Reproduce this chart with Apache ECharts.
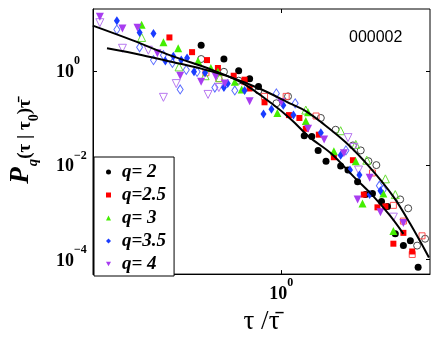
<!DOCTYPE html>
<html>
<head>
<meta charset="utf-8">
<script src="https://cdn.jsdelivr.net/npm/echarts@6/dist/echarts.min.js"></script>
<style>
html, body { margin: 0; padding: 0; background: #fff; }
#chart { width: 436px; height: 340px; }
</style>
</head>
<body>
<div id="chart"></div>
<script>
// [tau/taubar, P_q(tau|tau0)*taubar]
const q2 = [[0.445,3.48],[0.560,1.78],[0.650,1.00],[0.726,0.681],[0.794,0.464],[1.26,0.0422],[1.36,0.0402],[1.45,0.0205],[1.57,0.0121],[1.82,0.00953],[1.96,0.00787],[2.16,0.00442],[2.51,0.00249],[2.34,0.00237],[2.75,0.00169],[2.92,0.00133],[3.16,0.000348],[3.43,0.000196],[3.68,0.000249],[3.98,0.0000681]];
const q2open = [[0.445,1.78],[0.560,0.953],[0.650,0.619],[0.794,0.383],[0.951,0.205],[1.07,0.287],[1.49,0.100],[1.73,0.0562],[2.06,0.0261],[2.23,0.0205],[2.41,0.0121],[2.61,0.0100],[3.32,0.00187],[3.60,0.00121],[4.27,0.000274],[3.94,0.000196]];
const q25 = [[0.323,5.11],[0.406,2.49],[0.472,1.69],[0.527,1.15],[0.618,0.787],[0.690,0.649],[0.726,0.422],[0.844,0.215],[1.08,0.115],[1.20,0.100],[1.28,0.0590],[1.46,0.0442],[1.70,0.0147],[2.06,0.0127],[2.30,0.00237],[2.64,0.00127],[2.86,0.00133],[3.43,0.000365],[3.10,0.000215],[3.75,0.000147]];
const q25open = [[0.467,0.909],[0.532,0.681],[0.690,0.590],[0.844,0.287],[1.05,0.287],[1.42,0.110],[2.51,0.00681],[3.10,0.00140],[3.43,0.000649],[4.14,0.000316],[3.75,0.000127]];
const q3 = [[0.244,9.53],[0.304,4.02],[0.353,3.01],[0.431,1.62],[0.491,1.15],[0.527,0.953],[0.625,0.590],[0.670,0.402],[0.961,0.127],[1.31,0.133],[1.28,0.0866],[1.70,0.0196],[2.12,0.0121],[2.27,0.00154],[2.80,0.00249],[3.10,0.000402]];
const q3open = [[0.244,5.11],[0.356,1.21],[0.463,0.787],[0.537,0.715],[1.28,0.147],[1.82,0.0536],[2.12,0.0274],[2.37,0.0127],[2.86,0.00511],[3.16,0.00237]];
const q35 = [[0.190,11.5],[0.239,6.49],[0.275,6.19],[0.310,1.62],[0.336,2.05],[0.364,1.69],[0.386,1.87],[0.414,0.953],[0.463,0.909],[0.560,0.442],[0.582,0.536],[0.690,0.383],[0.835,0.121],[0.905,0.154],[1.02,0.187],[1.13,0.115],[1.49,0.0487],[1.82,0.0162],[2.20,0.00619],[2.00,0.00787],[2.44,0.00237],[2.72,0.00287]];
const q35open = [[0.190,7.50],[0.239,3.16],[0.275,1.69],[0.304,2.15],[0.333,1.47],[0.360,0.402],[0.383,1.05],[0.427,0.953],[0.511,0.442],[0.625,0.383],[0.951,0.332],[1.15,0.205],[1.92,0.0205],[2.69,0.00365],[2.80,0.00301]];
const q4 = [[0.160,14.0],[0.201,7.87],[0.234,8.25],[0.286,2.37],[0.360,0.787],[0.445,0.590],[0.516,0.750],[0.565,0.536],[0.726,0.226],[1.00,0.215],[1.31,0.0590],[1.54,0.0348],[1.88,0.0178],[2.44,0.00536],[2.16,0.00187],[2.72,0.00100],[3.43,0.000590]];
const q4open = [[0.160,10.5],[0.201,3.01],[0.261,2.74],[0.346,0.536],[0.304,0.274],[0.477,0.316],[0.532,0.442],[1.96,0.0383],[2.08,0.0237],[2.18,0.00787],[3.10,0.000787]];
// the two fitted curves
const fitA = [[0.149,9.09],[0.223,4.42],[0.333,2.05],[0.496,1.05],[0.670,0.562],[0.905,0.205],[1.11,0.0909],[1.32,0.0402],[1.65,0.0178],[2.08,0.00562],[2.54,0.00215],[3.01,0.000825],[3.43,0.000348]];
const fitB = [[0.172,3.01],[0.246,2.15],[0.333,1.54],[0.449,1.10],[0.607,0.715],[0.819,0.402],[1.11,0.196],[1.28,0.140],[1.49,0.0825],[1.92,0.0301],[2.46,0.00866],[3.10,0.00215],[3.68,0.000562],[4.44,0.000110]];
const legendNames = ['q= 2', 'q=2.5', 'q= 3', 'q=3.5', 'q= 4'];
const xTicks = [1];
const yTicks = [1e-4, 1e-2, 1];

const serif = 'Liberation Serif';
const downTri = 'path://M0,0 L10,0 L5,9 Z';
const chart = echarts.init(document.getElementById('chart'));

function powLabel(v) {
    const r = Math.round(Math.log10(v));
    return '{b|10}{s|' + (r < 0 ? '\u2212' + (-r) : r) + '}';
}
const powRich = {
    b: { fontFamily: serif, fontWeight: 'bold', fontSize: 18, color: '#000', padding: [8, 0, 5, 0], verticalAlign: 'bottom' },
    s: { fontFamily: serif, fontWeight: 'bold', fontSize: 12, color: '#000', verticalAlign: 'top' }
};

function dots(name, data, symbol, size, color, hollow) {
    return {
        name: name,
        type: 'scatter',
        data: data,
        symbol: symbol,
        symbolSize: size,
        z: hollow ? 2 : 3,
        itemStyle: hollow
            ? { color: 'rgba(255,255,255,0)', borderColor: color, borderWidth: 1, opacity: 1 }
            : { color: color, opacity: 1 }
    };
}
function fit(data) {
    return {
        type: 'line',
        data: data,
        symbol: 'none',
        smooth: 0.35,
        z: 4,
        lineStyle: { color: '#000', width: 2 }
    };
}

const xBase = { type: 'log', min: 0.1493, max: 4.487 };
const yBase = { type: 'log', min: 4.87e-5, max: 20.5 };
const xTick = { show: true, inside: true, length: 4, customValues: xTicks, lineStyle: { color: '#000' } };
const yTick = { show: true, inside: true, length: 4, customValues: yTicks, lineStyle: { color: '#000' } };

let option = {
    animation: false,
    backgroundColor: '#fff',
    grid: { left: 90, right: 6, top: 9, bottom: 61, show: true, borderColor: '#000', borderWidth: 1 },
    xAxis: [
        Object.assign({}, xBase, {
            position: 'bottom',
            axisLine: { show: true, lineStyle: { color: '#000' } },
            axisTick: xTick,
            splitLine: { show: false },
            axisLabel: { formatter: powLabel, rich: powRich, margin: 3, customValues: xTicks },
            name: 'τ /τ\u0304',
            nameLocation: 'middle',
            nameGap: 29,
            nameTextStyle: { fontFamily: serif, fontSize: 27, color: '#000' }
        }),
        Object.assign({}, xBase, {
            position: 'top',
            axisLine: { show: false },
            axisTick: xTick,
            splitLine: { show: false },
            axisLabel: { show: false }
        })
    ],
    yAxis: [
        Object.assign({}, yBase, {
            position: 'left',
            axisLine: { show: true, lineStyle: { color: '#000' } },
            axisTick: yTick,
            splitLine: { show: false },
            axisLabel: { formatter: powLabel, rich: powRich, margin: 37, align: 'left', customValues: yTicks },
            name: '{p|P}{sq|q}{n|(}{t|τ}{n| | }{t|τ}{sz|0}{n|)}{t|τ\u0304}',
            nameLocation: 'middle',
            nameRotate: 90,
            nameGap: 52,
            nameTextStyle: {
                rich: {
                    p: { fontFamily: serif, fontWeight: 'bold', fontStyle: 'italic', fontSize: 27, color: '#000', verticalAlign: 'bottom', padding: [0, 1, 6, 0] },
                    sq: { fontFamily: serif, fontWeight: 'bold', fontStyle: 'italic', fontSize: 15, color: '#000', verticalAlign: 'bottom' },
                    n: { fontFamily: serif, fontWeight: 'bold', fontSize: 19, color: '#000', verticalAlign: 'bottom', padding: [0, 0, 6, 0] },
                    t: { fontFamily: serif, fontWeight: 'bold', fontSize: 19, color: '#000', verticalAlign: 'bottom', padding: [0, 0, 6, 0] },
                    sz: { fontFamily: serif, fontWeight: 'bold', fontSize: 14, color: '#000', verticalAlign: 'bottom' }
                }
            }
        }),
        Object.assign({}, yBase, {
            position: 'right',
            axisLine: { show: false },
            axisTick: yTick,
            splitLine: { show: false },
            axisLabel: { show: false }
        })
    ],
    legend: {
        data: legendNames,
        orient: 'vertical',
        left: 94,
        top: 157,
        padding: [5, 8, 2, 12],
        itemWidth: 5,
        itemHeight: 5,
        itemGap: 3,
        borderColor: '#000',
        borderWidth: 1,
        borderRadius: 0,
        backgroundColor: '#fff',
        textStyle: { fontFamily: serif, fontWeight: 'bold', fontStyle: 'italic', fontSize: 19, lineHeight: 20, color: '#000', padding: [0, 0, 0, 6] }
    },
    graphic: [
        { type: 'text', left: 349, top: 30, style: { text: '000002', fontFamily: 'Liberation Sans', fontSize: 16, fill: '#000' } }
    ],
    series: [
        dots('q= 2 open', q2open, 'circle', 7, '#444444', true),
        dots('q=2.5 open', q25open, 'rect', 6, '#ff5050', true),
        dots('q= 3 open', q3open, 'triangle', 8, '#66dd33', true),
        dots('q=3.5 open', q35open, 'diamond', [6, 9], '#5a6cff', true),
        dots('q= 4 open', q4open, downTri, 8, '#b878f0', true),
        dots(legendNames[0], q2, 'circle', 7, '#000000', false),
        dots(legendNames[1], q25, 'rect', 6, '#ff0000', false),
        dots(legendNames[2], q3, 'triangle', 8, '#44ee00', false),
        dots(legendNames[3], q35, 'diamond', [6, 9], '#1a3cff', false),
        dots(legendNames[4], q4, downTri, 8, '#a83cf0', false),
        fit(fitA),
        fit(fitB)
    ]
};

chart.setOption(option);
</script>
</body>
</html>
